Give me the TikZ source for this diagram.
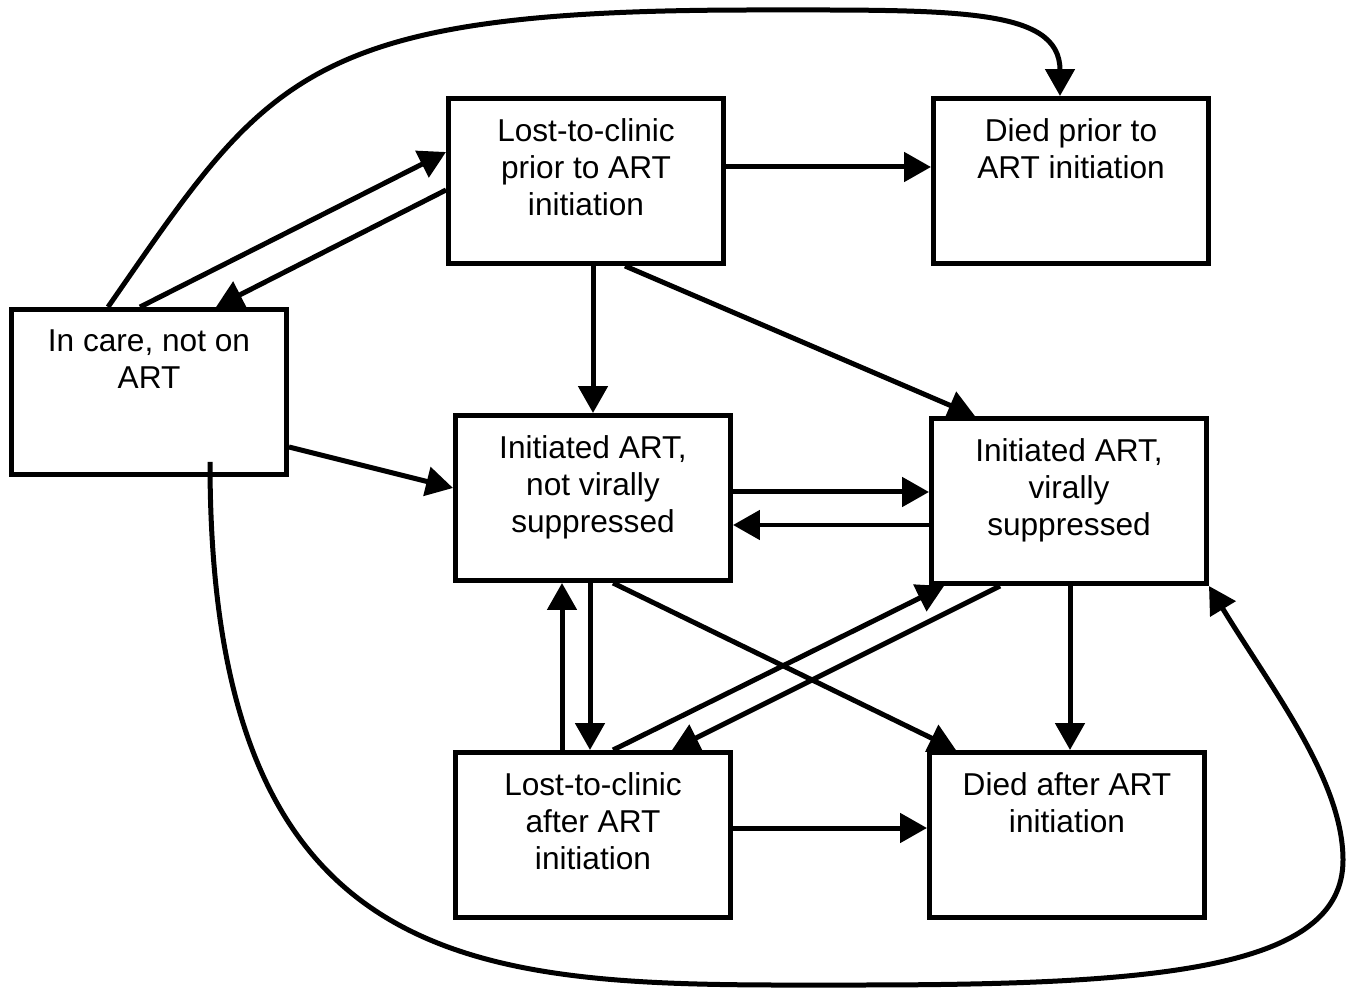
\documentclass[tikz,border=0pt]{standalone}
\usepackage{fontspec}
\setmainfont{Liberation Sans}
\usetikzlibrary{arrows.meta}
\newcommand{\boxtext}[1]{\parbox[t][2.5cm][t]{5.5cm}{\centering #1}}

\begin{document}
\begin{tikzpicture}[x=0.02cm,y=-0.02cm,>={Triangle[length=0.54cm,width=0.58cm]},
  line width=0.1cm,
  state/.style={draw,inner xsep=0pt,inner ysep=0.4cm,font=\fontsize{18}{21}\selectfont}]
  \useasboundingbox (0,0) rectangle (1352,989);

  \node[state] (ic) at (149,392) {\boxtext{In care, not on\\ART}};
  \node[state] (lp) at (586,181) {\boxtext{Lost-to-clinic\\prior to ART\\initiation}};
  \node[state] (dp) at (1071,181) {\boxtext{Died prior to\\ART initiation}};
  \node[state] (ns) at (593,498) {\boxtext{Initiated ART,\\not virally\\suppressed}};
  \node[state] (vs) at (1069,501) {\boxtext{Initiated ART,\\virally\\suppressed}};
  \node[state] (la) at (593,835) {\boxtext{Lost-to-clinic\\after ART\\initiation}};
  \node[state] (da) at (1067,835) {\boxtext{Died after ART\\initiation}};

  \draw[->] ([shift={(-41,0)}]ic.north) .. controls (268,77) and (300,10) .. (754,10)
    .. controls (954,10) and (1060,7) .. ([shift={(-11,0)}]dp.north);
  \draw[->] ([shift={(-9,0)}]ic.north) -- ([shift={(0,-29)}]lp.west);
  \draw[->] ([shift={(0,9)}]lp.west) -- ([shift={(67,0)}]ic.north);
  \draw[->] ([shift={(0,-14)}]lp.east) -- ([shift={(0,-14)}]dp.west);
  \draw[->] ([shift={(7,0)}]lp.south) -- (ns.north);
  \draw[->] ([shift={(39,0)}]lp.south) -- ([shift={(-94,0)}]vs.north);
  \draw[->] ([shift={(0,55)}]ic.east) -- ([shift={(0,-10)}]ns.west);
  \draw[->] ([shift={(0,-6)}]ns.east) -- ([shift={(0,-9)}]vs.west);
  \draw[->] ([shift={(0,24)}]vs.west) -- ([shift={(0,27)}]ns.east);
  \draw[->] ([shift={(-3,0)}]ns.south) -- ([shift={(-3,0)}]la.north);
  \draw[->] ([shift={(-31,0)}]la.north) -- ([shift={(-31,0)}]ns.south);
  \draw[->] ([shift={(20,0)}]ns.south) -- ([shift={(-111,0)}]da.north);
  \draw[->] ([shift={(20,0)}]la.north) -- ([shift={(-125,0)}]vs.south);
  \draw[->] ([shift={(-69,0)}]vs.south) -- ([shift={(79,0)}]la.north);
  \draw[->] ([shift={(1,0)}]vs.south) -- ([shift={(3,0)}]da.north);
  \draw[->] ([shift={(0,-7)}]la.east) -- ([shift={(0,-7)}]da.west);
  \draw[->] ([shift={(61,-15)}]ic.south) .. controls (210,1000) and (500,985) .. (856,985)
    .. controls (1156,985) and (1343,970) .. (1343,860)
    .. controls (1343,780) and (1271,688) .. (vs.south east);
\end{tikzpicture}
\end{document}
